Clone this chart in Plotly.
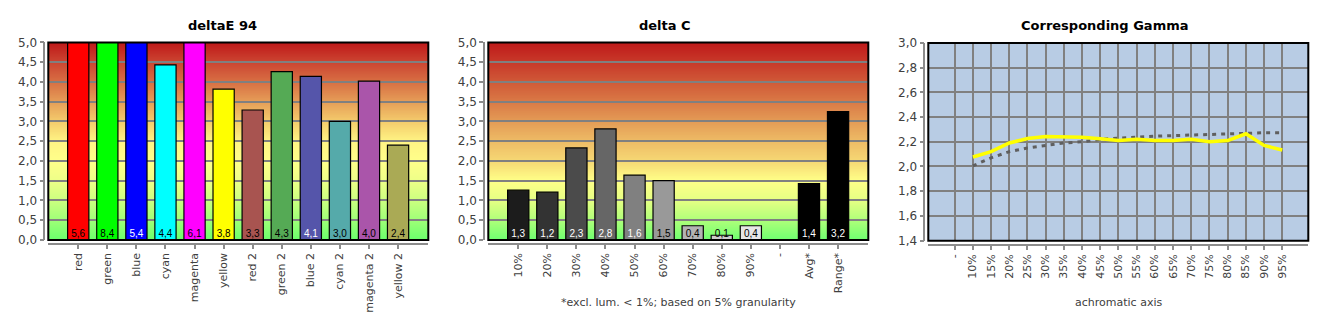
import base64
import struct
import zlib
import plotly.graph_objects as go

# ---------------- data ----------------
de_cats = ["red", "green", "blue", "cyan", "magenta", "yellow",
           "red 2", "green 2", "blue 2", "cyan 2", "magenta 2", "yellow 2"]
de_vals = [5.6, 8.4, 5.4, 4.43, 6.1, 3.82, 3.29, 4.26, 4.14, 3.0, 4.02, 2.40]

dc_cats = ["10%", "20%", "30%", "40%", "50%", "60%", "70%", "80%", "90%",
           "-", "Avg*", "Range*"]
dc_vals = [1.26, 1.21, 2.33, 2.81, 1.64, 1.5, 0.36, 0.12, 0.36, None, 1.43, 3.25]

gm_cats = ["-", "10%", "15%", "20%", "25%", "30%", "35%", "40%", "45%", "50%",
           "55%", "60%", "65%", "70%", "75%", "80%", "85%", "90%", "95%"]
gm_measured = [None, 2.077, 2.12, 2.19, 2.227, 2.242, 2.24, 2.237, 2.224, 2.21,
               2.22, 2.21, 2.21, 2.22, 2.20, 2.21, 2.265, 2.17, 2.134]
gm_target = [None, 2.005, 2.07, 2.12, 2.15, 2.17, 2.19, 2.20, 2.22, 2.23,
             2.24, 2.245, 2.25, 2.255, 2.26, 2.265, 2.268, 2.273, 2.273]

# ---------------- styles ----------------
de_colors = ["#ff0000", "#00ff00", "#0000ff", "#00ffff", "#ff00ff", "#ffff00",
             "#a85450", "#55aa55", "#5555aa", "#55aaaa", "#aa55aa", "#aaaa55"]
de_label_colors = ["black", "black", "white", "black", "black", "black",
                   "black", "black", "white", "black", "black", "black"]
dc_colors = ["#1c1c1c", "#333333", "#4b4b4b", "#666666", "#808080", "#999999",
             "#b3b3b3", "#cccccc", "#e6e6e6", "#000000", "#000000", "#000000"]
dc_label_colors = ["white", "white", "white", "white", "white", "black",
                   "black", "black", "black", "white", "white", "white"]

FONT = "DejaVu Sans"
W, H = 1330, 330
GRID = "#808080"
AXC = "#8c8c8c"
TXT = "#404040"

grad_left = [(0.0, "#6cff6c"), (0.5, "#a0ff78"), (1.0, "#ccff80"), (1.5, "#eeff88"),
             (2.0, "#ffff8a"), (2.5, "#fff484"), (3.0, "#f4cc6c"), (3.5, "#e69e58"),
             (4.0, "#d87044"), (4.5, "#cc4632"), (5.0, "#bf1a1a")]
grad_mid = [(0.0, "#70ff70"), (0.5, "#b0ff7a"), (1.0, "#e6ff84"), (1.5, "#ffff88"),
            (2.0, "#f6d874"), (2.5, "#eebc66"), (3.0, "#e49c56"), (3.5, "#da7a46"),
            (4.0, "#d05a38"), (4.5, "#c83a2a"), (5.0, "#bf1a1a")]


def hex2rgb(h):
    h = h.lstrip("#")
    return tuple(int(h[i:i + 2], 16) for i in (0, 2, 4))


def gradient_png(stops, rows=256):
    cols = []
    for i in range(rows):
        v = 5.0 * (1 - i / (rows - 1))  # top row = 5
        for (a, ca), (b, cb) in zip(stops[:-1], stops[1:]):
            if a <= v <= b:
                t = (v - a) / (b - a) if b > a else 0
                c1, c2 = hex2rgb(ca), hex2rgb(cb)
                cols.append(tuple(round(c1[k] + (c2[k] - c1[k]) * t) for k in range(3)))
                break
    raw = b"".join(b"\x00" + bytes(c) for c in cols)

    def chunk(t, d):
        return struct.pack(">I", len(d)) + t + d + struct.pack(">I", zlib.crc32(t + d) & 0xffffffff)

    png = (b"\x89PNG\r\n\x1a\n"
           + chunk(b"IHDR", struct.pack(">IIBBBBB", 1, len(cols), 8, 2, 0, 0, 0))
           + chunk(b"IDAT", zlib.compress(raw))
           + chunk(b"IEND", b""))
    return "data:image/png;base64," + base64.b64encode(png).decode()


def fmt(v):
    return f"{v:.1f}".replace(".", ",")


fig = go.Figure()

# ---------- deltaE 94 ----------
xs = list(range(len(de_cats)))
fig.add_trace(go.Bar(x=xs, y=de_vals, width=0.73, marker=dict(color=de_colors,
              line=dict(color="black", width=1.2)), xaxis="x", yaxis="y", hoverinfo="skip"))
fig.add_trace(go.Scatter(x=xs, y=[0] * len(xs), mode="text", text=[fmt(v) for v in de_vals],
              textposition="top center", cliponaxis=False,
              textfont=dict(family="Liberation Sans", size=10, color=de_label_colors),
              xaxis="x", yaxis="y", hoverinfo="skip"))

# ---------- delta C ----------
xs2 = [i for i, v in enumerate(dc_vals) if v is not None]
vals2 = [v for v in dc_vals if v is not None]
fig.add_trace(go.Bar(x=xs2, y=vals2, width=0.73,
              marker=dict(color=[dc_colors[i] for i in xs2], line=dict(color="black", width=1.2)),
              xaxis="x2", yaxis="y2", hoverinfo="skip"))
fig.add_trace(go.Scatter(x=xs2, y=[0] * len(xs2), mode="text", text=[fmt(v) for v in vals2],
              textposition="top center", cliponaxis=False,
              textfont=dict(family="Liberation Sans", size=10,
                            color=[dc_label_colors[i] for i in xs2]),
              xaxis="x2", yaxis="y2", hoverinfo="skip"))

# ---------- Corresponding Gamma ----------
xs3 = list(range(len(gm_cats)))
fig.add_trace(go.Scatter(x=xs3, y=gm_target, mode="lines",
              line=dict(color="#5f5f5f", width=3, dash="4px,5px"),
              xaxis="x3", yaxis="y3", hoverinfo="skip"))
fig.add_trace(go.Scatter(x=xs3, y=gm_measured, mode="lines",
              line=dict(color="#ffff00", width=3.5),
              xaxis="x3", yaxis="y3", hoverinfo="skip"))

# ---------- axes ----------
def px_x(p):
    return p / W


def px_y(p):
    return (H - p) / H


common_x = dict(anchor="free", ticks="outside", ticklen=4, tickcolor=AXC, tickwidth=1.5,
                showline=True, linecolor=AXC, linewidth=1.5, zeroline=False,
                tickangle=-90, tickfont=dict(family=FONT, size=11, color=TXT))
common_y = dict(anchor="free", ticks="outside", ticklen=4, tickcolor=AXC, tickwidth=1.5,
                showline=True, linecolor=AXC, linewidth=1.5, zeroline=False,
                gridcolor=GRID, gridwidth=1.5, tickformat=".1f",
                tickfont=dict(family=FONT, size=12, color=TXT))

ydom = [px_y(243.3), px_y(37)]
fig.update_layout(
    xaxis=dict(common_x, domain=[px_x(48.3), px_x(428.3)], position=px_y(247.3),
               range=[-1.03, 12.04], tickvals=xs, ticktext=de_cats, showgrid=False),
    yaxis=dict(common_y, domain=ydom, position=px_x(44.3), range=[0, 5], dtick=0.5),
    xaxis2=dict(common_x, domain=[px_x(488.3), px_x(868.3)], position=px_y(247.3),
                range=[-1.03, 12.04], tickvals=list(range(len(dc_cats))), ticktext=dc_cats,
                showgrid=False),
    yaxis2=dict(common_y, domain=ydom, position=px_x(484.0), range=[0, 5], dtick=0.5),
    xaxis3=dict(common_x, domain=[px_x(928.3), px_x(1308.3)], position=px_y(248.7),
                range=[-1.45, 19.43], tickvals=xs3, ticktext=gm_cats, showgrid=True,
                gridcolor=GRID, gridwidth=1.5),
    yaxis3=dict(common_y, domain=[px_y(244), px_y(37.5)], position=px_x(924.3),
                range=[1.4, 3.0], dtick=0.2),
)

images = []
shapes = []
for xr, yr, stops in (("x", "y", grad_left), ("x2", "y2", grad_mid)):
    images.append(dict(source=gradient_png(stops), xref=xr + " domain", yref=yr + " domain",
                       x=0, y=1, sizex=1, sizey=1, sizing="stretch", xanchor="left",
                       yanchor="top", layer="below"))
for xr, yr in (("x", "y"), ("x2", "y2"), ("x3", "y3")):
    shapes.append(dict(type="rect", xref=xr + " domain", yref=yr + " domain",
                       x0=0, x1=1, y0=0, y1=1, line=dict(color="black", width=2),
                       layer="above"))

annotations = [
    dict(text="<b>deltaE 94</b>", x=222 / W, y=px_y(19.5)),
    dict(text="<b>delta C</b>", x=664.5 / W, y=px_y(19.5)),
    dict(text="<b>Corresponding Gamma</b>", x=1105 / W, y=px_y(19.5)),
]
for a in annotations:
    a.update(xref="paper", yref="paper", showarrow=False, xanchor="center", yanchor="middle",
             font=dict(family=FONT, size=13, color="black"))
for txt, cx in (("*excl. lum. &lt; 1%; based on 5% granularity", 678), ("achromatic axis", 1118)):
    annotations.append(dict(text=txt, x=cx / W, y=px_y(309), xref="paper", yref="paper",
                            showarrow=False, xanchor="center", yanchor="middle",
                            font=dict(family=FONT, size=11, color=TXT)))

fig.update_layout(
    width=W, height=H, autosize=False, margin=dict(l=0, r=0, t=0, b=0, pad=0),
    paper_bgcolor="white", plot_bgcolor="#b8cce4",
    showlegend=False, hovermode=False, separators=",.",
    images=images, shapes=shapes, annotations=annotations,
)

fig.write_html("out.html", config={"displayModeBar": False})
